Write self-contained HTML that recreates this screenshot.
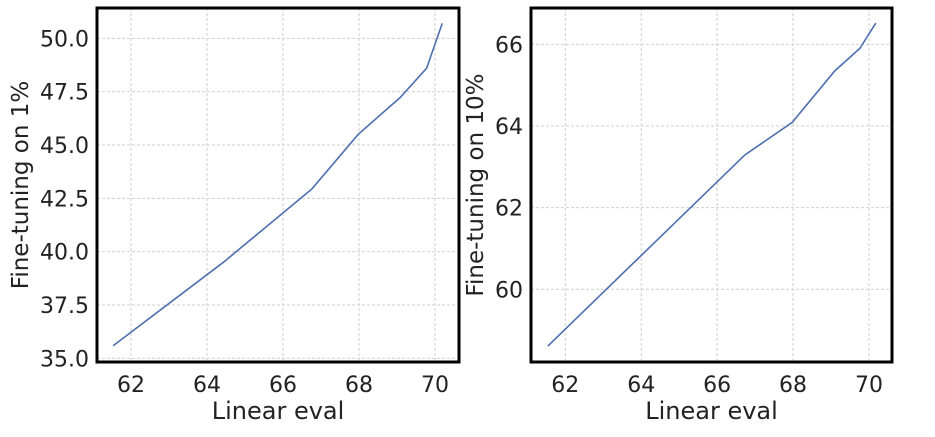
<!DOCTYPE html>
<html><head><meta charset="utf-8"><style>
html,body{margin:0;padding:0;background:#fff;}
svg text{font-family:"DejaVu Sans","Liberation Sans",sans-serif;fill:#222;}
</style></head><body>
<svg id="c" width="935" height="432"></svg>
<script>
const xTicks=[62,64,66,68,70];
const leftX=[61.53,64.43,66.76,67.98,69.08,69.78,70.19];
const leftY=[35.59,39.5,42.94,45.5,47.22,48.6,50.7];
const leftYTicks=[35.0,37.5,40.0,42.5,45.0,47.5,50.0];
const leftYTickLabels=["35.0","37.5","40.0","42.5","45.0","47.5","50.0"];
const rightX=[61.54,66.73,67.98,69.1,69.76,70.18];
const rightY=[58.61,63.29,64.09,65.35,65.9,66.52];
const rightYTicks=[60,62,64,66];
const rightYTickLabels=["60","62","64","66"];
const NS="http://www.w3.org/2000/svg";
const svg=document.getElementById('c');
function mk(t,a,p){const e=document.createElementNS(NS,t);for(const k in a)e.setAttribute(k,a[k]);(p||svg).appendChild(e);return e;}
function panel(o){
  const g=mk('g',{});
  
  
  const sx=v=>o.x0+(v-62)*o.kx, sy=v=>o.y0-(v-o.yb)*o.ky;
  xTicks.forEach(t=>{const l=mk('line',{x1:sx(t),x2:sx(t),y1:o.top,y2:o.bot,stroke:'#cfcfcf','stroke-width':1,'stroke-dasharray':'3,2'},g);
    
    const tx=mk('text',{x:sx(t),y:o.bot+30,'text-anchor':'middle','font-size':22},g);tx.textContent=t;
    });
  o.yt.forEach((t,i)=>{const l=mk('line',{x1:o.left,x2:o.right,y1:sy(t),y2:sy(t),stroke:'#cfcfcf','stroke-width':1,'stroke-dasharray':'3,2'},g);
    
    const tx=mk('text',{x:o.left-8,y:sy(t)+8,'text-anchor':'end','font-size':22},g);tx.textContent=o.yl[i];
    });
  const pts=o.xs.map((v,i)=>sx(v)+','+sy(o.ys[i])).join(' ');
  const pl=mk('polyline',{points:pts,fill:'none',stroke:'#4c6fae','stroke-width':1.6},g);
  
  const r=mk('rect',{x:o.left,y:o.top,width:o.right-o.left,height:o.bot-o.top,fill:'none',stroke:'#000','stroke-width':3},g);
  
  const xl=mk('text',{x:(o.left+o.right)/2,y:419,'text-anchor':'middle','font-size':24},g);xl.textContent='Linear eval';
  
  const yc=(o.top+o.bot)/2;
  const yl=mk('text',{x:o.ylx,y:yc,'text-anchor':'middle','font-size':23,transform:`rotate(-90 ${o.ylx} ${yc})`},g);yl.textContent=o.ytitle;
  
}
panel({name:'left-panel',left:97,right:459,top:8,bot:362,x0:131,kx:38,y0:358.3,yb:35,ky:21.33,xs:leftX,ys:leftY,yt:leftYTicks,yl:leftYTickLabels,ytitle:'Fine-tuning on 1%',ylx:28});
panel({name:'right-panel',left:531,right:892,top:8,bot:362,x0:565.3,kx:37.96,y0:289.3,yb:60,ky:40.83,xs:rightX,ys:rightY,yt:rightYTicks,yl:rightYTickLabels,ytitle:'Fine-tuning on 10%',ylx:483});
</script>
</body></html>
